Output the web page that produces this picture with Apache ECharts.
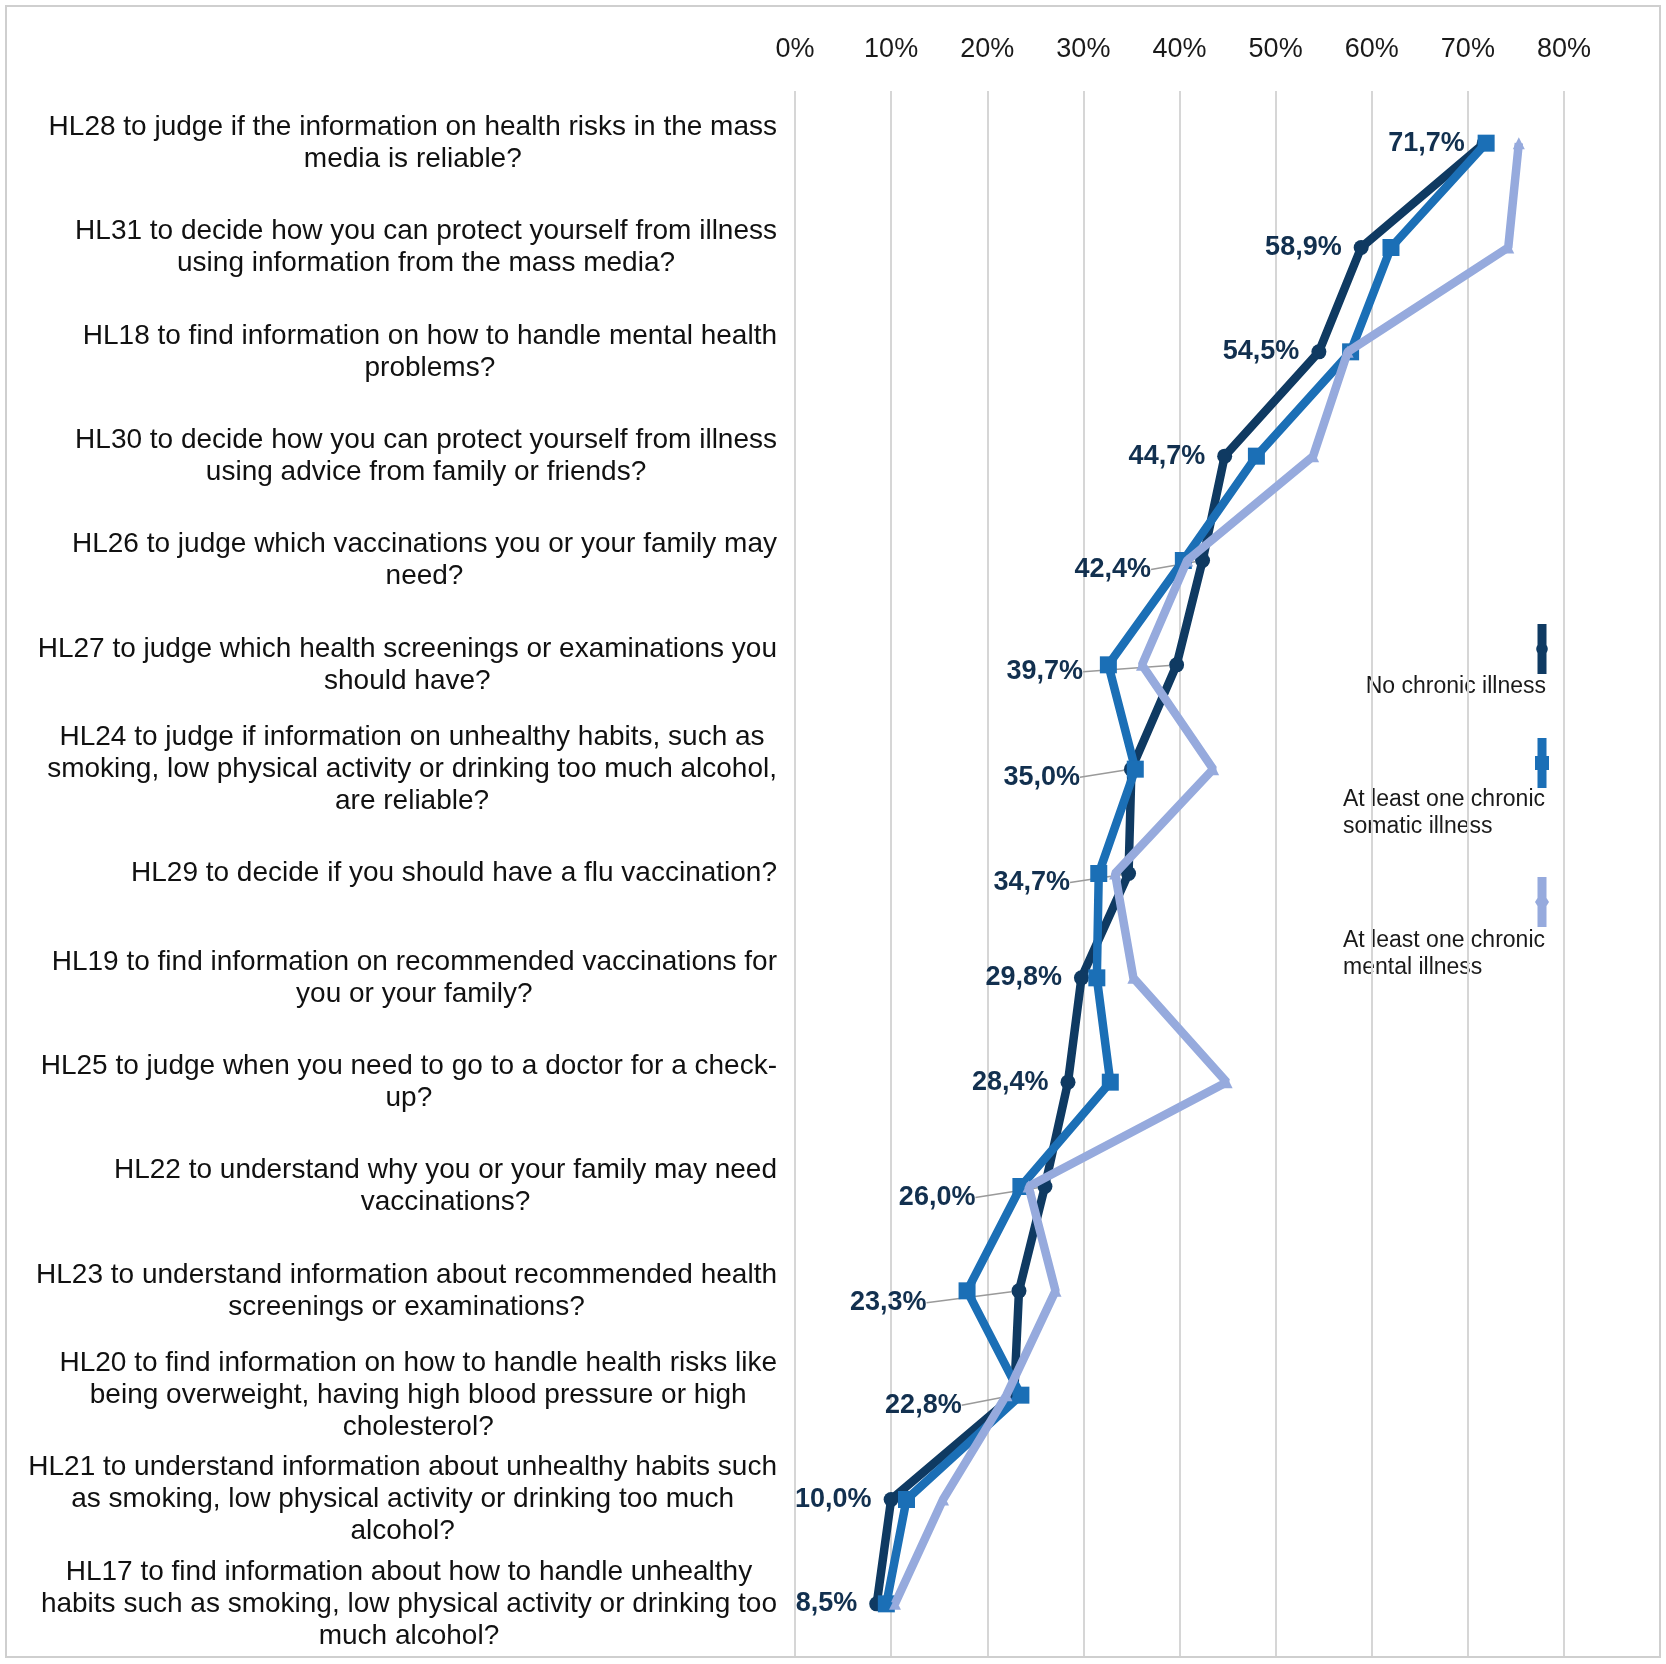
<!DOCTYPE html>
<html>
<head>
<meta charset="utf-8">
<script src="https://cdn.jsdelivr.net/npm/echarts@6/dist/echarts.min.js"></script>
<style>html,body{margin:0;padding:0;background:#fff}#c{width:1666px;height:1664px}</style>
</head>
<body>
<div id="c"></div>
<script>
const categories = [
  "HL28 to judge if the information on health risks in the mass\nmedia is reliable?",
  "HL31 to decide how you can protect yourself from illness\nusing information from the mass media?",
  "HL18 to find information on how to handle mental health\nproblems?",
  "HL30 to decide how you can protect yourself from illness\nusing advice from family or friends?",
  "HL26 to judge which vaccinations you or your family may\nneed?",
  "HL27 to judge which health screenings or examinations you\nshould have?",
  "HL24 to judge if information on unhealthy habits, such as\nsmoking, low physical activity or drinking too much alcohol,\nare reliable?",
  "HL29 to decide if you should have a flu vaccination?",
  "HL19 to find information on recommended vaccinations for\nyou or your family?",
  "HL25 to judge when you need to go to a doctor for a check-\nup?",
  "HL22 to understand why you or your family may need\nvaccinations?",
  "HL23 to understand information about recommended health\nscreenings or examinations?",
  "HL20 to find information on how to handle health risks like\nbeing overweight, having high blood pressure or high\ncholesterol?",
  "HL21 to understand information about unhealthy habits such\nas smoking, low physical activity or drinking too much\nalcohol?",
  "HL17 to find information about how to handle unhealthy\nhabits such as smoking, low physical activity or drinking too\nmuch alcohol?"
];
const seriesNames = ["No chronic illness", "At least one chronic somatic illness", "At least one chronic mental illness"];
const noChronic = [71.7, 58.9, 54.5, 44.7, 42.4, 39.7, 35.0, 34.7, 29.8, 28.4, 26.0, 23.3, 22.8, 10.0, 8.5];
const somatic   = [71.9, 62.0, 57.8, 48.0, 40.4, 32.6, 35.4, 31.6, 31.4, 32.8, 23.5, 17.9, 23.5, 11.6, 9.5];
const mental    = [75.3, 74.2, 57.5, 53.9, 40.8, 36.1, 43.5, 33.3, 35.2, 44.9, 24.3, 27.1, 22.0, 15.4, 10.4];
const xTickValues = [0, 10, 20, 30, 40, 50, 60, 70, 80];

// label placement styling (kept separate from data)
const labelShiftX = [0, 0, 0, 0, 32, 74, 32, 39, 0, 0, 50, 73, 33, 0, 0];
const labelShiftY = [0, 0, 0, 0, 9, 7, 8, 9, 0, 0, 11, 12, 10, 0, 0];

const C_DARK = '#0f3a62', C_MED = '#1b6fb6', C_LIGHT = '#96aadd';
const FONT = '"Liberation Sans", Arial, Helvetica, sans-serif';

const chart = echarts.init(document.getElementById('c'), null, {renderer: 'canvas'});

const darkData = noChronic.map((v, i) => ({value: v, labelLine: {show: labelShiftX[i] > 0}}));

const iconCircle = 'path://M2.5,0H11.5V21.1A7,7 0 0 1 11.5,28.9V50H2.5V28.9A7,7 0 0 1 2.5,21.1Z';
const iconSquare = 'path://M2.5,0H11.5V18H14V32H11.5V50H2.5V32H0V18H2.5Z';
const iconLight  = 'path://M2.5,0H11.5V21L14,25L11.5,29V50H2.5V29L0,25L2.5,21Z';

const legendBase = {orient: 'vertical', itemWidth: 14, itemHeight: 50, formatter: function(){ return ''; }, textStyle: {fontSize: 1}, selectedMode: false, itemStyle: {borderWidth: 0}};

const option = {
  animation: false,
  backgroundColor: '#ffffff',
  grid: {left: 795, right: 102, top: 91, bottom: 8, containLabel: false},
  legend: [
    Object.assign({}, legendBase, {data: [seriesNames[0]], icon: iconCircle, left: 1530, top: 619}),
    Object.assign({}, legendBase, {data: [seriesNames[1]], icon: iconSquare, left: 1530, top: 733}),
    Object.assign({}, legendBase, {data: [seriesNames[2]], icon: iconLight, left: 1530, top: 872})
  ],
  xAxis: {
    type: 'value', position: 'top', min: xTickValues[0], max: xTickValues[xTickValues.length - 1], interval: 10,
    axisLine: {show: false}, axisTick: {show: false},
    axisLabel: {formatter: '{value}%', fontSize: 27, fontFamily: FONT, color: '#1a1a1a', margin: 28},
    splitLine: {show: true, lineStyle: {color: '#d6d6d6', width: 2}}
  },
  yAxis: {
    type: 'category', inverse: true, data: categories,
    axisLine: {show: false}, axisTick: {show: false}, splitLine: {show: false},
    axisLabel: {
      margin: 18, fontSize: 28, fontFamily: FONT, color: '#111', lineHeight: 32, align: 'right',
      formatter: function (v) { return v.split('\n').map(function (l) { return '{c|' + l + '}'; }).join('\n'); },
      rich: {c: {align: 'center', fontSize: 28, lineHeight: 32, fontFamily: FONT, color: '#111'}}
    }
  },
  series: [
    {
      name: seriesNames[0], type: 'line', data: darkData,
      symbol: 'circle', symbolSize: 15,
      lineStyle: {color: C_DARK, width: 8.5}, itemStyle: {color: C_DARK},
      label: {
        show: true, position: 'left', distance: 12,
        fontSize: 27, fontWeight: 'bold', fontFamily: FONT, color: '#12304f',
        formatter: function (p) { return p.value.toFixed(1).replace('.', ',') + '%'; }
      },
      labelLayout: function (p) { return {dx: -labelShiftX[p.dataIndex], dy: labelShiftY[p.dataIndex]}; },
      labelLine: {show: true, lineStyle: {color: '#9a9a9a', width: 1.5}},
      z: 2
    },
    {
      name: seriesNames[1], type: 'line', data: somatic,
      symbol: 'rect', symbolSize: 17,
      lineStyle: {color: C_MED, width: 8.5}, itemStyle: {color: C_MED},
      z: 3
    },
    {
      name: seriesNames[2], type: 'line', data: mental,
      symbol: 'triangle', symbolSize: 12,
      lineStyle: {color: C_LIGHT, width: 8.5}, itemStyle: {color: C_LIGHT},
      z: 4
    }
  ],
  graphic: [
    {type: 'rect', shape: {x: 6, y: 6, width: 1654, height: 1651}, style: {fill: 'none', stroke: '#cfcfcf', lineWidth: 2}, silent: true},
    {type: 'text', style: {x: 1546, y: 687, text: 'No chronic illness', align: 'right', verticalAlign: 'middle', fontSize: 23, fontFamily: FONT, fill: '#1a1a1a'}},
    {type: 'text', style: {x: 1343, y: 786, text: 'At least one chronic\nsomatic illness', align: 'left', verticalAlign: 'top', fontSize: 23, lineHeight: 27, fontFamily: FONT, fill: '#1a1a1a'}},
    {type: 'text', style: {x: 1343, y: 927, text: 'At least one chronic\nmental illness', align: 'left', verticalAlign: 'top', fontSize: 23, lineHeight: 27, fontFamily: FONT, fill: '#1a1a1a'}}
  ]
};
chart.setOption(option);
</script>
</body>
</html>
